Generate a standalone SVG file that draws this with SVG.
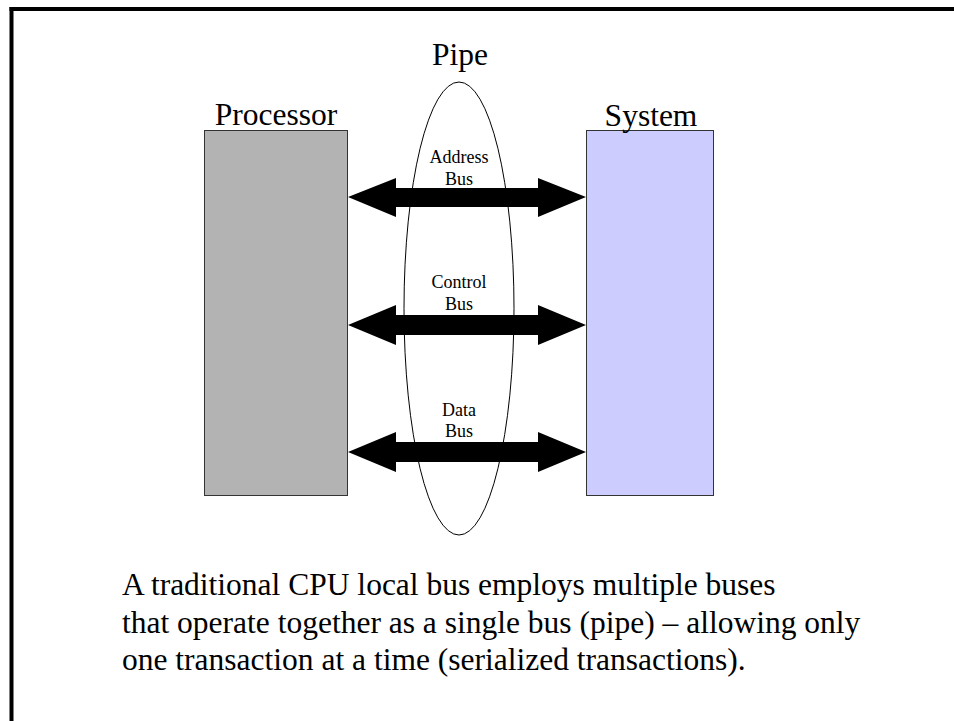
<svg xmlns="http://www.w3.org/2000/svg" width="954" height="721" viewBox="0 0 954 721">
<style>
.big{font-family:"Liberation Serif","Times New Roman",serif;font-size:31.5px;fill:#000}
.small{font-family:"Liberation Serif","Times New Roman",serif;font-size:18px;fill:#000;text-anchor:middle}
.body{font-family:"Liberation Serif","Times New Roman",serif;font-size:31.5px;fill:#000}
.box{stroke:#333;stroke-width:1}
.bus{fill:#000}
</style>
<rect x="0" y="0" width="954" height="721" fill="#fff"/>
<g id="frame">
<rect x="9.5" y="7" width="944.5" height="4" fill="#000"/>
<rect x="9.5" y="7" width="4" height="714" fill="#000"/>
</g>
<g id="processor">
<rect class="box" x="204.5" y="130.5" width="143" height="365" fill="#b3b3b3"/>
<text class="big" x="276" y="125" text-anchor="middle">Processor</text>
</g>
<g id="system">
<rect class="box" x="586.5" y="130.5" width="127" height="365" fill="#ccccff"/>
<text class="big" x="651" y="126" text-anchor="middle">System</text>
</g>
<g id="pipe">
<ellipse cx="459" cy="308.5" rx="55" ry="226.5" fill="none" stroke="#000" stroke-width="1"/>
<text class="big" x="460" y="65" text-anchor="middle">Pipe</text>
</g>
<g id="connectors">
<polygon class="bus" points="348,197 396,178 396,188 538,188 538,178 586,197 538,217 538,207 396,207 396,217"/>
<polygon class="bus" points="348,325 396,305 396,315 538,315 538,305 586,325 538,345 538,335 396,335 396,345"/>
<polygon class="bus" points="348,452 396,432 396,442 538,442 538,432 586,452 538,472 538,462 396,462 396,472"/>
</g>
<g id="labels">
<text class="small" x="459" y="163">Address</text>
<text class="small" x="459" y="185">Bus</text>
<text class="small" x="459" y="288">Control</text>
<text class="small" x="459" y="310">Bus</text>
<text class="small" x="459" y="416">Data</text>
<text class="small" x="459" y="437">Bus</text>
</g>
<g id="caption">
<text class="body" x="122" y="595">A traditional CPU local bus employs multiple buses</text>
<text class="body" x="122" y="632.5">that operate together as a single bus (pipe) – allowing only</text>
<text class="body" x="122" y="670">one transaction at a time (serialized transactions).</text>
</g>
</svg>
